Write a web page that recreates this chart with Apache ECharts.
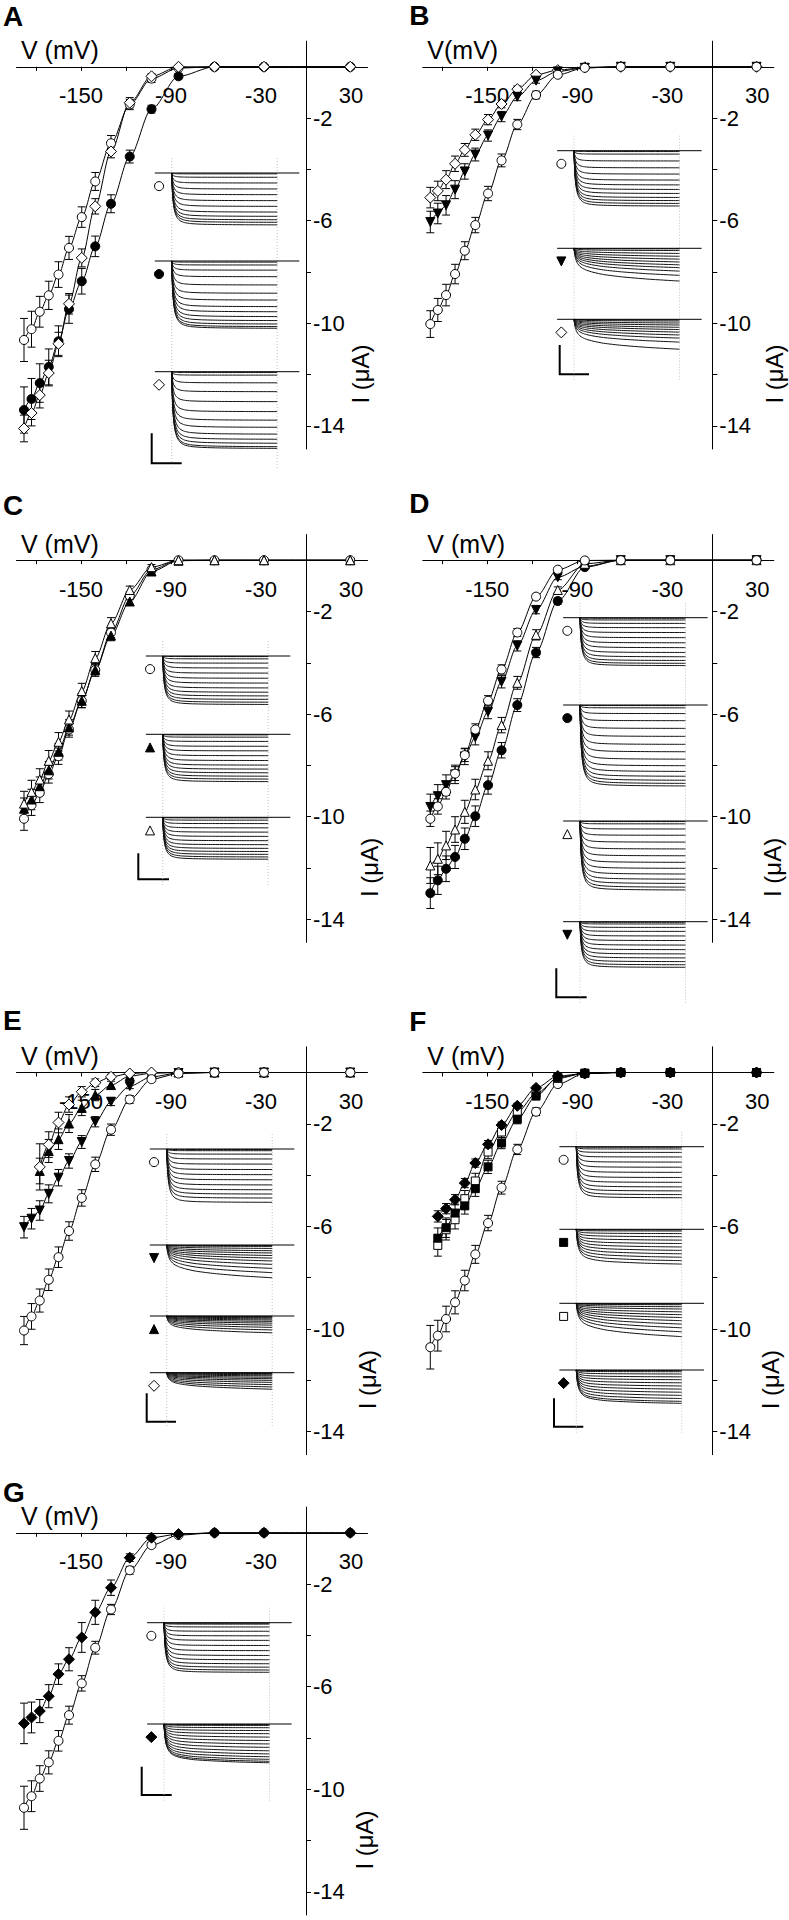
<!DOCTYPE html>
<html><head><meta charset="utf-8">
<script src="https://cdn.jsdelivr.net/npm/echarts@6/dist/echarts.min.js"></script>
<style>html,body{margin:0;padding:0;background:#fff;} #c{width:789px;height:1920px;}</style>
</head><body><div id="c"></div>
<script>
// ---------- DATA ----------
const voltages = [-188, -183, -177.5, -171.5, -165, -158, -149.5, -140.5, -130, -117.5, -103, -85, -61, -28, 29.5];
const xTickValues = [-180, -150, -120, -90, -60, -30, 30];
const xTickLabels = [-150, -90, -30, 30];
const yTickValues = [-14, -12, -10, -8, -6, -4, -2];
const yTickLabels = [-14, -10, -6, -2];

// Panel A
const A_oc_I = [-10.65, -10.23, -9.55, -8.91, -8.1, -7.06, -5.86, -4.47, -2.98, -1.47, -0.46, -0.05, 0, 0, 0];
const A_oc_err = [0.84, 0.7, 0.6, 0.55, 0.5, 0.45, 0.4, 0.35, 0.3, 0.2, 0.15, 0, 0, 0, 0];
const A_fc_I = [-13.38, -12.95, -12.33, -11.7, -10.7, -9.45, -8.36, -7.0, -5.34, -3.5, -1.65, -0.37, 0, 0, 0];
const A_fc_err = [0.9, 0.8, 0.75, 0.7, 0.6, 0.55, 0.5, 0.4, 0.35, 0.25, 0.15, 0.1, 0, 0, 0];
const A_od_I = [-14.1, -13.5, -12.8, -11.94, -10.8, -9.24, -7.45, -5.44, -3.3, -1.4, -0.37, 0, 0, 0, 0];
const A_od_err = [0.52, 0.5, 0.5, 0.5, 0.45, 0.4, 0.35, 0.3, 0.25, 0.2, 0.1, 0, 0, 0, 0];
// Panel B
const B_oc_I = [-10.03, -9.48, -8.9, -8.08, -7.17, -6.17, -4.94, -3.65, -2.25, -1.1, -0.31, -0.04, 0, 0, 0];
const B_oc_err = [0.52, 0.45, 0.42, 0.38, 0.35, 0.3, 0.28, 0.25, 0.2, 0.15, 0.1, 0, 0, 0, 0];
const B_ftd_I = [-6.05, -5.72, -5.4, -4.79, -4.08, -3.42, -2.68, -1.94, -1.17, -0.54, -0.18, -0.04, 0, 0, 0];
const B_ftd_err = [0.42, 0.4, 0.38, 0.35, 0.3, 0.25, 0.22, 0.2, 0.15, 0.1, 0.05, 0, 0, 0, 0];
const B_od_I = [-5.1, -4.84, -4.4, -3.78, -3.24, -2.65, -2.06, -1.45, -0.87, -0.31, -0.13, -0.02, 0, 0, 0];
const B_od_err = [0.4, 0.38, 0.35, 0.3, 0.25, 0.22, 0.2, 0.15, 0.12, 0.08, 0.05, 0, 0, 0, 0];
// Panel C
const C_oc_I = [-10.08, -9.55, -9.07, -8.34, -7.64, -6.6, -5.48, -4.28, -2.82, -1.39, -0.37, 0, 0, 0, 0];
const C_oc_err = [0.45, 0.4, 0.38, 0.35, 0.32, 0.3, 0.27, 0.24, 0.2, 0.15, 0.1, 0, 0, 0, 0];
const C_ftu_I = [-9.69, -9.33, -8.81, -8.19, -7.47, -6.52, -5.48, -4.28, -2.94, -1.61, -0.44, -0.02, 0, 0, 0];
const C_ftu_err = [0.42, 0.4, 0.36, 0.34, 0.32, 0.3, 0.27, 0.24, 0.2, 0.15, 0.1, 0, 0, 0, 0];
const C_otu_I = [-9.49, -9.03, -8.55, -7.82, -7.08, -6.21, -5.1, -3.82, -2.46, -1.16, -0.27, 0, 0, 0, 0];
const C_otu_err = [0.48, 0.45, 0.42, 0.4, 0.36, 0.33, 0.3, 0.26, 0.22, 0.15, 0.1, 0, 0, 0, 0];
// Panel D
const D_oc_I = [-10.08, -9.6, -9.03, -8.32, -7.6, -6.6, -5.48, -4.26, -2.82, -1.42, -0.37, -0.01, 0, 0, 0];
const D_oc_err = [0.3, 0.3, 0.28, 0.27, 0.25, 0.22, 0.2, 0.18, 0.15, 0.1, 0.08, 0, 0, 0, 0];
const D_fc_I = [-12.98, -12.48, -12.03, -11.57, -10.86, -9.98, -8.77, -7.41, -5.65, -3.6, -1.59, -0.27, 0, 0, 0];
const D_fc_err = [0.6, 0.55, 0.5, 0.45, 0.42, 0.4, 0.35, 0.3, 0.25, 0.2, 0.12, 0.05, 0, 0, 0];
const D_otu_I = [-11.9, -11.64, -11.12, -10.5, -9.81, -8.94, -7.82, -6.43, -4.78, -2.91, -1.16, -0.14, 0, 0, 0];
const D_otu_err = [0.7, 0.62, 0.55, 0.5, 0.45, 0.4, 0.35, 0.3, 0.25, 0.2, 0.12, 0.05, 0, 0, 0];
const D_ftd_I = [-9.62, -9.2, -8.77, -8.35, -7.65, -6.9, -5.91, -4.74, -3.34, -1.94, -0.66, -0.24, 0, 0, 0];
const D_ftd_err = [0.5, 0.45, 0.4, 0.36, 0.32, 0.3, 0.27, 0.24, 0.2, 0.15, 0.1, 0.05, 0, 0, 0];
// Panel E
const E_oc_I = [-10.06, -9.51, -8.89, -8.08, -7.2, -6.18, -4.89, -3.58, -2.23, -1.05, -0.26, -0.04, 0, 0, 0];
const E_oc_err = [0.55, 0.5, 0.45, 0.42, 0.4, 0.36, 0.32, 0.28, 0.22, 0.15, 0.1, 0, 0, 0, 0];
const E_ftd_I = [-6.03, -5.7, -5.38, -4.73, -4.1, -3.45, -2.71, -1.92, -1.14, -0.53, -0.17, -0.02, 0, 0, 0];
const E_ftd_err = [0.42, 0.4, 0.38, 0.35, 0.32, 0.28, 0.25, 0.2, 0.15, 0.1, 0.05, 0, 0, 0, 0];
const E_ftu_I = [null, null, -3.84, -3.06, -2.6, -1.99, -1.38, -0.88, -0.49, -0.14, -0.03, 0, 0, 0, 0];
const E_ftu_err = [0, 0, 0.5, 0.45, 0.4, 0.35, 0.3, 0.22, 0.15, 0.1, 0.05, 0, 0, 0, 0];
const E_od_I = [null, null, -3.68, -2.81, -1.95, -1.25, -0.75, -0.4, -0.17, -0.04, 0, 0, 0, 0, 0];
const E_od_err = [0, 0, 0.9, 0.5, 0.4, 0.3, 0.2, 0.15, 0.1, 0.05, 0, 0, 0, 0, 0];
// Panel F
const F_oc_I = [-10.71, -10.26, -9.61, -8.96, -8.11, -7.09, -5.87, -4.49, -3.0, -1.53, -0.45, -0.04, 0, 0, 0];
const F_oc_err = [0.85, 0.6, 0.5, 0.45, 0.4, 0.35, 0.3, 0.25, 0.2, 0.15, 0.1, 0, 0, 0, 0];
const F_fs_I = [null, -6.46, -6.05, -5.48, -5.2, -4.53, -3.68, -2.75, -1.82, -0.92, -0.19, -0.03, 0, 0, 0];
const F_fs_err = [0, 0.4, 0.38, 0.35, 0.32, 0.3, 0.26, 0.22, 0.18, 0.12, 0.06, 0, 0, 0, 0];
const F_os_I = [null, -6.74, -6.13, -5.74, -4.92, -4.23, -3.1, -2.32, -1.54, -0.82, -0.23, -0.03, 0, 0, 0];
const F_os_err = [0, 0.42, 0.4, 0.36, 0.32, 0.3, 0.26, 0.22, 0.18, 0.12, 0.06, 0, 0, 0, 0];
const F_fd_I = [null, -5.61, -5.31, -4.96, -4.31, -3.53, -2.8, -2.05, -1.3, -0.6, -0.14, -0.04, 0, 0, 0];
const F_fd_err = [0, 0.22, 0.2, 0.2, 0.18, 0.16, 0.15, 0.12, 0.1, 0.08, 0.05, 0, 0, 0, 0];
// Panel G
const G_oc_I = [-10.72, -10.27, -9.58, -8.95, -8.11, -7.11, -5.87, -4.48, -2.99, -1.46, -0.48, -0.09, 0, 0, 0];
const G_oc_err = [0.84, 0.6, 0.5, 0.45, 0.4, 0.35, 0.3, 0.25, 0.2, 0.15, 0.1, 0, 0, 0, 0];
const G_fd_I = [-7.43, -7.2, -6.95, -6.37, -5.51, -4.93, -4.08, -3.1, -2.14, -0.97, -0.19, -0.05, 0, 0, 0];
const G_fd_err = [0.79, 0.6, 0.45, 0.45, 0.4, 0.45, 0.58, 0.47, 0.3, 0.15, 0.08, 0, 0, 0, 0];

// Inset current traces: steady-state amplitude of each trace (scale-bar units)
const traceTime = [0, 0.004, 0.01, 0.02, 0.035, 0.055, 0.08, 0.12, 0.18, 0.28, 0.45, 0.7, 1.0];
const profileFast = [0, 0.25, 0.48, 0.66, 0.79, 0.87, 0.92, 0.955, 0.975, 0.987, 0.994, 0.998, 1];
const profileMedium = [0, 0.18, 0.36, 0.52, 0.64, 0.73, 0.79, 0.84, 0.88, 0.92, 0.95, 0.98, 1];
const profileSlow = [0, 0.12, 0.25, 0.37, 0.47, 0.55, 0.61, 0.67, 0.73, 0.8, 0.87, 0.94, 1];

const A_tr_oc = [0.03, 0.15, 0.35, 0.56, 0.76, 0.97, 1.17, 1.37, 1.52, 1.64, 1.73, 1.82];
const A_tr_fc = [0.04, 0.14, 0.32, 0.55, 0.84, 1.13, 1.37, 1.6, 1.78, 1.95, 2.09, 2.21, 2.3, 2.36];
const A_tr_od = [0.03, 0.12, 0.39, 0.7, 1.05, 1.4, 1.7, 1.95, 2.19, 2.37, 2.51, 2.63, 2.69];
const B_tr_oc = [0.03, 0.12, 0.36, 0.6, 0.82, 1.03, 1.2, 1.36, 1.5, 1.64, 1.75, 1.85, 1.94];
const B_tr_ftd = [0.02, 0.08, 0.18, 0.28, 0.38, 0.48, 0.58, 0.68, 0.8, 0.95, 1.15];
const B_tr_od = [0.02, 0.06, 0.13, 0.2, 0.28, 0.36, 0.45, 0.55, 0.66, 0.8, 1.05];
const C_tr_oc = [0.02, 0.1, 0.25, 0.42, 0.6, 0.78, 0.95, 1.12, 1.27, 1.4, 1.52, 1.62, 1.7];
const C_tr_ftu = [0.02, 0.1, 0.25, 0.42, 0.58, 0.75, 0.92, 1.08, 1.22, 1.35, 1.47, 1.57, 1.66];
const C_tr_otu = [0.02, 0.1, 0.22, 0.37, 0.52, 0.67, 0.82, 0.96, 1.09, 1.2, 1.3, 1.39, 1.47];
const D_tr_oc = [0.02, 0.08, 0.2, 0.35, 0.52, 0.7, 0.88, 1.05, 1.22, 1.37, 1.5, 1.6, 1.68];
const D_tr_fc = [0.02, 0.1, 0.3, 0.55, 0.82, 1.1, 1.38, 1.64, 1.9, 2.13, 2.33, 2.5, 2.64, 2.75, 2.84];
const D_tr_otu = [0.02, 0.1, 0.28, 0.5, 0.74, 0.98, 1.22, 1.45, 1.66, 1.86, 2.04, 2.19, 2.32, 2.42];
const D_tr_ftd = [0.02, 0.08, 0.2, 0.34, 0.5, 0.66, 0.82, 0.98, 1.13, 1.27, 1.4, 1.51, 1.6];
const E_tr_oc = [0.02, 0.06, 0.18, 0.35, 0.53, 0.72, 0.9, 1.08, 1.26, 1.43, 1.58, 1.72, 1.87];
const E_tr_ftd = [0.02, 0.05, 0.12, 0.2, 0.28, 0.37, 0.46, 0.56, 0.68, 0.82, 0.97, 1.15];
const E_tr_ftu = [0.01, 0.03, 0.06, 0.1, 0.14, 0.19, 0.25, 0.32, 0.4, 0.49, 0.59];
const E_tr_od = [0.01, 0.03, 0.07, 0.11, 0.16, 0.21, 0.27, 0.34, 0.42, 0.5, 0.58];
const F_tr_oc = [0.02, 0.08, 0.2, 0.36, 0.54, 0.72, 0.9, 1.08, 1.25, 1.41, 1.55, 1.68, 1.79];
const F_tr_fs = [0.02, 0.06, 0.15, 0.26, 0.38, 0.5, 0.62, 0.74, 0.86, 0.98, 1.1, 1.22];
const F_tr_os = [0.02, 0.05, 0.12, 0.2, 0.3, 0.4, 0.5, 0.61, 0.73, 0.86, 1.0, 1.17];
const F_tr_fd = [0.02, 0.06, 0.14, 0.24, 0.34, 0.45, 0.56, 0.67, 0.78, 0.89, 1.0, 1.1, 1.17];
const G_tr_oc = [0.02, 0.05, 0.15, 0.3, 0.46, 0.62, 0.8, 0.98, 1.15, 1.3, 1.44, 1.56, 1.66, 1.74];
const G_tr_fd = [0.02, 0.05, 0.13, 0.23, 0.34, 0.46, 0.58, 0.7, 0.82, 0.94, 1.05, 1.15, 1.24, 1.31, 1.36];

// ---------- LAYOUT / STYLE ----------
const FONT = '"Liberation Sans", Arial, Helvetica, sans-serif';
const MARKS = {
  oc: {symbol: 'circle', size: 9, fill: '#fff'},
  fc: {symbol: 'circle', size: 9, fill: '#000'},
  od: {symbol: 'diamond', size: 11, fill: '#fff'},
  fd: {symbol: 'diamond', size: 11, fill: '#000'},
  ftd: {symbol: 'triangle', size: 9, fill: '#000', rotate: 180},
  ftu: {symbol: 'triangle', size: 9, fill: '#000'},
  otu: {symbol: 'triangle', size: 9, fill: '#fff'},
  fs: {symbol: 'rect', size: 8, fill: '#000'},
  os: {symbol: 'rect', size: 8, fill: '#fff'}
};
const PROFILES = {fast: profileFast, medium: profileMedium, slow: profileSlow};
const colX0 = [306, 712.3];
const rowY0 = [66.8, 560.2, 1072.5, 1532.8];
const PXV = 1.5, PXI = 25.65, VMIN = -193, VMAX = 41, IMIN = -14.9, IMAX = 1;
const W = 105.5, U = 28.5, TMIN = -0.16, TMAX = 1.21, YMIN = -3, YMAX = 0.3;

// series lists are in drawing order (last one on top)
const panels = [
  {id: 'A', col: 0, row: 0, letterY: 6.7, vt: 'V (mV)', ylabDx: 54,
   series: [['oc', A_oc_I, A_oc_err], ['fc', A_fc_I, A_fc_err], ['od', A_od_I, A_od_err]],
   t0: 171.7, bar: [151.7, 433.3, 463.3, 181.7],
   groups: [['oc', 173, A_tr_oc, 'fast'], ['fc', 261, A_tr_fc, 'fast'], ['od', 371.7, A_tr_od, 'fast']]},
  {id: 'B', col: 1, row: 0, letterY: 5, vt: 'V(mV)', ylabDx: 62,
   series: [['od', B_od_I, B_od_err], ['ftd', B_ftd_I, B_ftd_err], ['oc', B_oc_I, B_oc_err]],
   t0: 574, bar: [559.7, 345, 374.3, 589],
   groups: [['oc', 150.7, B_tr_oc, 'fast'], ['ftd', 248.3, B_tr_ftd, 'slow'], ['od', 319.3, B_tr_od, 'slow']]},
  {id: 'C', col: 0, row: 1, letterY: 495, vt: 'V (mV)', ylabDx: 63,
   series: [['oc', C_oc_I, C_oc_err], ['ftu', C_ftu_I, C_ftu_err], ['otu', C_otu_I, C_otu_err]],
   t0: 162.7, bar: [138.3, 853.3, 879.3, 169],
   groups: [['oc', 656, C_tr_oc, 'fast'], ['ftu', 734.3, C_tr_ftu, 'fast'], ['otu', 817.3, C_tr_otu, 'fast']]},
  {id: 'D', col: 1, row: 1, letterY: 493, vt: 'V (mV)', ylabDx: 60,
   series: [['ftd', D_ftd_I, D_ftd_err], ['fc', D_fc_I, D_fc_err], ['otu', D_otu_I, D_otu_err], ['oc', D_oc_I, D_oc_err]],
   t0: 580, bar: [556.3, 968.3, 997.3, 586.7],
   groups: [['oc', 617.7, D_tr_oc, 'fast'], ['fc', 705, D_tr_fc, 'fast'], ['otu', 821, D_tr_otu, 'fast'], ['ftd', 921.7, D_tr_ftd, 'fast']]},
  {id: 'E', col: 0, row: 2, letterY: 1010, vt: 'V (mV)', ylabDx: 61,
   series: [['ftd', E_ftd_I, E_ftd_err], ['ftu', E_ftu_I, E_ftu_err], ['od', E_od_I, E_od_err], ['oc', E_oc_I, E_oc_err]],
   t0: 166.7, bar: [146.7, 1393.3, 1421.7, 176],
   groups: [['oc', 1149, E_tr_oc, 'fast'], ['ftd', 1245, E_tr_ftd, 'slow'], ['ftu', 1316, E_tr_ftu, 'slow'], ['od', 1372.7, E_tr_od, 'slow']]},
  {id: 'F', col: 1, row: 2, letterY: 1011.7, vt: 'V (mV)', ylabDx: 58,
   series: [['oc', F_oc_I, F_oc_err], ['os', F_os_I, F_os_err], ['fs', F_fs_I, F_fs_err], ['fd', F_fd_I, F_fd_err]],
   t0: 576.3, bar: [554, 1398.3, 1426.7, 583.3],
   groups: [['oc', 1146.7, F_tr_oc, 'fast'], ['fs', 1229.3, F_tr_fs, 'medium'], ['os', 1303.3, F_tr_os, 'slow'], ['fd', 1370, F_tr_fd, 'medium']]},
  {id: 'G', col: 0, row: 3, letterY: 1482, vt: 'V (mV)', ylabDx: 58,
   series: [['oc', G_oc_I, G_oc_err], ['fd', G_fd_I, G_fd_err]],
   t0: 164, bar: [141.7, 1766.7, 1795, 171.7],
   groups: [['oc', 1622.7, G_tr_oc, 'fast'], ['fd', 1724, G_tr_fd, 'medium']]}
];

// ---------- BUILD ----------
const grids = [], xAxes = [], yAxes = [], series = [], graphics = [];
const txt = (size, bold) => (bold ? 'bold ' : '') + size + 'px ' + FONT;

function errRender(params, api) {
  const x = api.value(0), lo = api.value(1), hi = api.value(2);
  const p1 = api.coord([x, lo]), p2 = api.coord([x, hi]);
  const cw = 4, st = {stroke: '#000', lineWidth: 1};
  return {type: 'group', children: [
    {type: 'line', shape: {x1: p1[0], y1: p1[1], x2: p2[0], y2: p2[1]}, style: st},
    {type: 'line', shape: {x1: p1[0] - cw, y1: p1[1], x2: p1[0] + cw, y2: p1[1]}, style: st},
    {type: 'line', shape: {x1: p2[0] - cw, y1: p2[1], x2: p2[0] + cw, y2: p2[1]}, style: st}
  ]};
}

panels.forEach(p => {
  const x0 = colX0[p.col], y0 = rowY0[p.row];
  const gi = grids.length;
  grids.push({left: x0 + VMIN * PXV, top: y0 - IMAX * PXI, width: (VMAX - VMIN) * PXV, height: (IMAX - IMIN) * PXI});
  // x axis crosses at I = 0 (inside the grid, IMAX below its top); y axis at V = 0
  xAxes.push({gridIndex: gi, type: 'value', min: VMIN, max: VMAX, position: 'top', offset: -IMAX * PXI,
    axisLine: {onZero: false, lineStyle: {color: '#000', width: 1}},
    axisTick: {show: true, inside: true, customValues: xTickValues, length: 4, lineStyle: {color: '#000', width: 1}},
    axisLabel: {inside: true, customValues: xTickLabels, margin: 18, color: '#000', fontSize: 22, fontFamily: FONT},
    splitLine: {show: false}});
  yAxes.push({gridIndex: gi, type: 'value', min: IMIN, max: IMAX, position: 'right', offset: -VMAX * PXV,
    axisLine: {onZero: false, lineStyle: {color: '#000', width: 1}},
    axisTick: {show: true, customValues: yTickValues, length: 5, lineStyle: {color: '#000', width: 1}},
    axisLabel: {customValues: yTickLabels, margin: 7, color: '#000', fontSize: 22, fontFamily: FONT},
    splitLine: {show: false}});

  p.series.forEach(([mk, I]) => {
    const pts = voltages.map((v, i) => I[i] == null ? null : [v, I[i]]).filter(Boolean);
    series.push({type: 'line', xAxisIndex: gi, yAxisIndex: gi, data: pts, symbol: 'none', smooth: 0.3,
      smoothMonotone: 'x', lineStyle: {color: '#000', width: 1}, z: 2, silent: true});
  });
  p.series.forEach(([mk, I, E]) => {
    const eb = voltages.map((v, i) => (I[i] == null || !E[i]) ? null : [v, I[i] - E[i], I[i] + E[i]]).filter(Boolean);
    series.push({type: 'custom', xAxisIndex: gi, yAxisIndex: gi, data: eb, renderItem: errRender,
      encode: {x: 0, y: [1, 2]}, z: 3, silent: true});
  });
  p.series.forEach(([mk, I]) => {
    const m = MARKS[mk];
    const pts = voltages.map((v, i) => I[i] == null ? null : [v, I[i]]).filter(Boolean);
    series.push({type: 'scatter', xAxisIndex: gi, yAxisIndex: gi, data: pts, symbol: m.symbol,
      symbolSize: m.size, symbolRotate: m.rotate || 0,
      itemStyle: {color: m.fill, borderColor: '#000', borderWidth: 1, opacity: 1}, z: 4, silent: true});
  });

  // texts
  graphics.push({type: 'text', x: x0 - 306 + 3, y: p.letterY - 4,
    style: {text: p.id, font: txt(28, true), fill: '#000', textAlign: 'left', textVerticalAlign: 'top'}});
  graphics.push({type: 'text', x: x0 - 285, y: y0 - 16.5,
    style: {text: p.vt, font: txt(25, false), fill: '#000', textAlign: 'left', textVerticalAlign: 'middle'}});
  graphics.push({type: 'text', x: x0 + p.ylabDx, y: y0 + 307.2, rotation: Math.PI / 2,
    style: {text: 'I (μA)', font: txt(24, false), fill: '#000', textAlign: 'center', textVerticalAlign: 'middle'}});

  // insets
  let bottomMost = 0;
  p.groups.forEach(([mk, base, levels, prof]) => {
    const ig = grids.length;
    grids.push({left: p.t0 + TMIN * W, top: base - YMAX * U, width: (TMAX - TMIN) * W, height: (YMAX - YMIN) * U});
    xAxes.push({gridIndex: ig, type: 'value', min: TMIN, max: TMAX, show: false});
    yAxes.push({gridIndex: ig, type: 'value', min: YMIN, max: YMAX, show: false});
    series.push({type: 'line', xAxisIndex: ig, yAxisIndex: ig, data: [[TMIN, 0], [TMAX, 0]], symbol: 'none',
      lineStyle: {color: '#000', width: 1}, z: 3, silent: true});
    const f = PROFILES[prof];
    levels.forEach(L => {
      series.push({type: 'line', xAxisIndex: ig, yAxisIndex: ig,
        data: traceTime.map((t, i) => [t, -L * f[i]]), symbol: 'none', smooth: 0.2,
        lineStyle: {color: '#111', width: 1}, z: 2, silent: true});
    });
    const m = MARKS[mk];
    series.push({type: 'scatter', xAxisIndex: ig, yAxisIndex: ig, data: [[-0.12, -0.46]], symbol: m.symbol,
      symbolSize: m.size, symbolRotate: m.rotate || 0,
      itemStyle: {color: m.fill, borderColor: '#000', borderWidth: 1, opacity: 1}, z: 4, silent: true});
    bottomMost = Math.max(bottomMost, base + Math.max(...levels) * U);
  });
  const topY = p.groups[0][1] - 15;
  const botY = Math.max(bottomMost, p.bar[2]) + 6;
  [p.t0, p.t0 + W].forEach(xx => {
    graphics.push({type: 'line', shape: {x1: xx, y1: topY, x2: xx, y2: botY}, z: 1,
      style: {stroke: '#c4c4c4', lineWidth: 1, lineDash: [1, 2]}});
  });
  const b = p.bar;
  graphics.push({type: 'polyline', shape: {points: [[b[0], b[1]], [b[0], b[2]], [b[3], b[2]]]},
    style: {stroke: '#000', lineWidth: 2, fill: null}});
});

const chart = echarts.init(document.getElementById('c'), null, {renderer: 'svg', width: 789, height: 1920});
chart.setOption({
  animation: false,
  backgroundColor: '#fff',
  grid: grids,
  xAxis: xAxes,
  yAxis: yAxes,
  series: series,
  graphic: {elements: graphics}
});
</script>
</body></html>
